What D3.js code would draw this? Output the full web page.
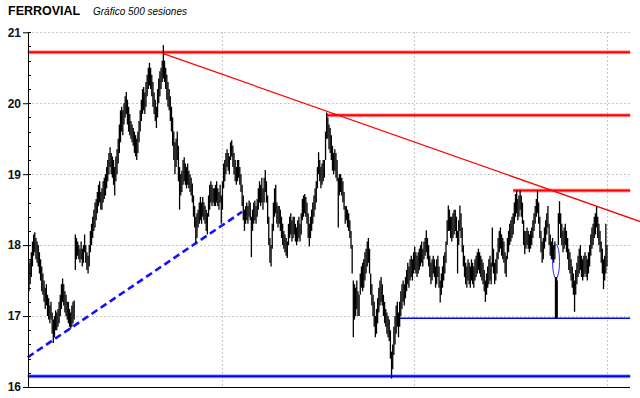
<!DOCTYPE html>
<html>
<head>
<meta charset="utf-8">
<script src="https://cdn.jsdelivr.net/npm/d3@7"></script>
<style>
body { margin: 0; background: #fff; }
#chart { width: 640px; height: 398px; }
</style>
</head>
<body>
<div id="chart"></div>
<script>
// daily ranges of the last 500 sessions (low / high)
var lows = [
  17.35,17.45,17.55,17.7,17.85,17.9,17.8,17.75,17.7,17.6,
  17.5,17.35,17.3,17.2,17.1,17.15,17.0,16.95,16.9,16.95,
  16.75,16.62,16.7,16.8,16.8,16.85,16.9,17.0,17.1,17.2,
  17.15,17.05,17.0,16.95,16.9,16.85,16.82,16.85,16.9,16.95,
  17.65,17.8,17.85,17.8,17.75,17.8,17.7,17.75,17.9,17.75,
  17.65,17.6,17.7,17.9,18.0,18.1,18.2,18.25,18.35,18.45,
  18.55,18.6,18.5,18.5,18.6,18.65,18.7,18.8,18.9,19.0,
  19.1,19.0,18.95,18.85,18.7,18.9,19.0,19.15,19.3,19.45,
  19.6,19.55,19.7,19.8,19.85,19.7,19.6,19.55,19.5,19.45,
  19.4,19.3,19.25,19.2,19.3,19.45,19.6,19.75,19.85,19.9,
  19.85,19.95,20.1,20.2,20.25,20.2,20.1,19.95,19.85,19.75,
  19.65,19.8,20.0,20.1,20.2,20.3,20.35,20.3,20.2,20.05,
  19.95,19.9,19.75,19.6,19.4,19.2,19.0,19.1,19.2,18.9,
  18.5,18.7,18.75,18.85,18.9,18.85,18.8,18.85,18.8,18.75,
  18.7,18.6,18.4,18.25,18.03,18.1,18.25,18.3,18.35,18.3,
  18.4,18.35,18.3,18.2,18.15,18.4,18.5,18.6,18.55,18.6,
  18.55,18.55,18.6,18.55,18.5,18.6,18.3,18.5,18.8,18.9,
  19.0,19.1,19.05,19.0,19.2,19.25,19.1,19.0,18.9,18.85,
  18.9,18.95,18.85,18.75,18.55,18.35,18.2,18.3,18.35,18.3,
  18.4,18.35,17.83,18.2,18.3,18.35,18.3,18.4,18.5,18.6,
  18.55,18.6,18.5,18.6,18.75,18.6,18.3,18.0,17.75,17.7,
  17.95,18.2,18.4,18.45,18.3,18.25,18.3,18.2,18.1,18.0,
  17.95,17.9,17.85,17.82,18.0,18.1,18.15,18.05,18.1,18.15,
  18.05,18.0,18.05,18.1,18.05,18.15,18.35,18.4,18.45,18.4,
  18.3,18.1,17.98,18.1,18.2,18.3,18.4,18.5,18.6,18.8,
  19.0,18.9,18.8,18.85,18.9,18.95,19.2,19.5,19.5,19.35,
  19.3,19.2,19.05,19.0,19.05,18.95,18.9,18.25,18.7,18.75,
  18.7,18.6,18.5,18.3,18.35,18.25,18.2,18.1,17.95,17.6,
  16.7,16.95,17.0,17.1,17.0,17.0,17.3,17.4,17.35,17.4,
  17.5,17.6,17.7,17.75,17.6,17.3,17.15,17.0,16.85,16.7,
  16.75,16.9,17.05,17.15,17.2,17.15,17.0,16.9,16.85,16.75,
  16.7,16.65,16.4,16.12,16.25,16.45,16.6,16.75,16.85,16.7,
  16.85,17.0,17.1,17.2,17.15,17.25,17.35,17.45,17.4,17.5,
  17.55,17.5,17.6,17.65,17.6,17.55,17.6,17.65,17.7,17.75,
  17.7,17.8,17.85,17.9,17.8,17.7,17.55,17.45,17.5,17.6,
  17.55,17.4,17.45,17.55,17.4,17.19,17.3,17.4,17.5,17.6,
  17.75,18.0,18.2,18.2,18.1,18.05,18.1,18.15,18.2,18.1,
  17.6,18.0,18.2,18.1,17.9,17.7,17.55,17.45,17.4,17.5,
  17.45,17.4,17.5,17.45,17.4,17.5,17.55,17.6,17.65,17.6,
  17.55,17.5,17.45,17.35,17.2,17.3,17.4,17.45,17.5,17.45,
  17.7,17.6,17.45,17.5,17.6,17.8,17.9,17.95,17.85,17.8,
  17.75,17.6,17.55,17.8,17.9,18.0,18.05,18.1,18.15,18.3,
  18.4,18.45,18.35,18.4,18.5,18.4,18.3,18.0,17.87,17.95,
  18.0,17.95,17.9,17.95,18.0,18.1,18.2,18.3,18.4,18.45,
  18.3,18.1,17.9,17.75,17.8,17.95,18.05,18.15,18.25,18.0,
  17.85,17.8,17.8,17.75,17.8,16.97,16.98,18.0,18.3,18.1,
  18.0,17.9,17.95,18.0,17.9,17.8,17.65,17.6,17.5,17.4,
  17.3,17.06,17.3,17.45,17.55,17.6,17.65,17.55,17.5,17.55,
  17.6,17.55,17.5,17.6,17.7,17.85,17.95,18.0,18.1,18.15,
  18.25,18.1,18.0,17.9,17.75,17.6,17.38,17.5,17.6,17.7
];
var highs = [
  17.75,17.8,17.9,18.05,18.15,18.18,18.1,18.05,18.0,17.9,
  17.8,17.7,17.6,17.5,17.4,17.45,17.3,17.25,17.15,17.2,
  17.05,16.95,17.0,17.08,17.05,17.1,17.2,17.3,17.45,17.53,
  17.45,17.35,17.3,17.2,17.2,17.1,17.05,17.15,17.2,17.22,
  18.15,18.1,18.05,18.0,17.95,18.05,17.95,18.0,18.15,18.0,
  17.9,17.85,18.0,18.2,18.3,18.4,18.5,18.6,18.65,18.75,
  18.85,18.9,18.75,18.8,18.9,18.95,19.0,19.1,19.2,19.3,
  19.38,19.3,19.25,19.2,19.1,19.25,19.35,19.5,19.7,19.9,
  19.95,19.9,20.0,20.1,20.16,20.05,19.95,19.85,19.75,19.7,
  19.65,19.6,19.55,19.5,19.6,19.75,19.9,20.05,20.2,20.23,
  20.15,20.3,20.4,20.5,20.57,20.5,20.4,20.3,20.15,20.05,
  19.95,20.2,20.35,20.45,20.5,20.6,20.82,20.6,20.5,20.4,
  20.3,20.2,20.1,19.95,19.8,19.6,19.45,19.5,19.6,19.4,
  19.1,19.0,19.05,19.2,19.24,19.15,19.1,19.15,19.05,19.0,
  18.95,18.87,18.7,18.55,18.4,18.45,18.5,18.6,18.68,18.6,
  18.68,18.6,18.55,18.5,18.45,18.7,18.85,18.9,18.85,18.8,
  18.8,18.85,18.9,18.8,18.75,18.85,18.7,18.9,19.15,19.2,
  19.3,19.35,19.3,19.25,19.45,19.48,19.4,19.3,19.2,19.1,
  19.2,19.2,19.1,19.0,18.85,18.7,18.5,18.55,18.6,18.55,
  18.63,18.6,18.4,18.5,18.6,18.63,18.55,18.65,18.8,18.9,
  18.85,18.95,18.8,18.95,19.06,18.9,18.7,18.4,18.1,18.0,
  18.3,18.6,18.8,18.85,18.6,18.55,18.55,18.5,18.4,18.3,
  18.2,18.15,18.1,18.05,18.3,18.4,18.45,18.35,18.4,18.4,
  18.3,18.25,18.35,18.4,18.3,18.45,18.65,18.7,18.72,18.68,
  18.6,18.45,18.3,18.4,18.5,18.6,18.7,18.8,18.9,19.1,
  19.31,19.2,19.1,19.15,19.2,19.2,19.6,19.87,19.8,19.7,
  19.65,19.55,19.4,19.3,19.35,19.3,19.2,18.95,19.0,19.0,
  18.95,18.9,18.75,18.55,18.55,18.5,18.45,18.35,18.2,18.0,
  17.5,17.45,17.4,17.5,17.35,17.3,17.6,17.7,17.75,17.8,
  17.9,17.95,18.05,18.1,17.95,17.6,17.45,17.3,17.2,17.0,
  17.1,17.25,17.4,17.5,17.55,17.45,17.3,17.2,17.1,17.05,
  17.0,16.95,16.8,16.5,16.6,16.85,17.0,17.15,17.2,17.05,
  17.2,17.35,17.45,17.5,17.45,17.55,17.65,17.75,17.7,17.8,
  17.85,17.8,17.9,17.98,17.9,17.85,17.9,17.95,18.0,18.05,
  17.95,18.05,18.1,18.21,18.1,18.0,17.85,17.75,17.8,17.85,
  17.8,17.7,17.8,17.85,17.7,17.5,17.6,17.7,17.85,17.9,
  18.05,18.35,18.56,18.5,18.4,18.4,18.45,18.5,18.5,18.4,
  18.2,18.35,18.56,18.45,18.25,18.0,17.85,17.75,17.7,17.8,
  17.75,17.7,17.8,17.75,17.7,17.8,17.85,17.9,17.95,17.9,
  17.85,17.8,17.75,17.65,17.5,17.6,17.7,17.8,17.85,17.75,
  18.25,17.95,17.75,17.8,17.9,18.1,18.2,18.25,18.15,18.1,
  18.05,17.9,17.85,18.1,18.2,18.3,18.35,18.4,18.45,18.6,
  18.72,18.77,18.65,18.7,18.77,18.7,18.6,18.35,18.2,18.2,
  18.25,18.2,18.15,18.2,18.25,18.35,18.45,18.55,18.65,18.77,
  18.6,18.4,18.2,18.05,18.1,18.25,18.35,18.45,18.55,18.3,
  18.15,18.05,18.1,18.0,18.05,17.55,17.5,18.45,18.62,18.45,
  18.3,18.2,18.25,18.3,18.2,18.1,17.95,17.9,17.8,17.7,
  17.6,17.5,17.65,17.75,17.85,17.95,18.0,17.85,17.8,17.85,
  17.9,17.85,17.8,17.9,18.0,18.15,18.25,18.3,18.4,18.45,
  18.54,18.4,18.3,18.2,18.05,17.95,17.8,17.85,18.3,18.0
];

var yTicks = [16, 17, 18, 19, 20, 21];
var gridSessions = [167, 332, 499];

// horizontal levels: price and first session, all run to levelEnd
var redLevels = [20.72, 19.83, 18.77];
var redStarts = [-1, 257, 418];
var blueLevels = [16.15, 16.97];
var blueStarts = [-1, 320];
var levelEnd = 519;

// trend lines [session, price]
var resistance = [[116, 20.70], [528, 18.33]];
var support = [[-1, 16.42], [184, 18.47]];

// marked gap: session, low, high
var gapMark = [455, 17.53, 18.01];

var Chart = {
  margin: { top: 32, left: 28 },
  width: 640,
  height: 398,

  drawPlot: function() {
    document.querySelector("#chart").innerHTML = '';
    this.svg = d3.select("#chart")
      .append("svg")
      .attr("width", this.width)
      .attr("height", this.height)
      .style("font-family", "'Liberation Sans', Arial, sans-serif");
  },

  createScales: function() {
    this.xScale = d3.scaleLinear()
      .domain([0, lows.length - 1])
      .range([29, 607]);

    this.yScale = d3.scaleLinear()
      .domain([16, 21])
      .range([387, 32.3]);
  },

  addGrid: function() {
    var that = this;
    var grid = this.svg.append("g").attr("class", "grid");

    grid.selectAll("line.h")
      .data(yTicks.slice(1))
      .enter().append("line")
      .attr("class", "h")
      .attr("x1", 28).attr("x2", 630)
      .attr("y1", function(d) { return Math.round(that.yScale(d)) + 0.5; })
      .attr("y2", function(d) { return Math.round(that.yScale(d)) + 0.5; })
      .attr("stroke", "#c3c9c3")
      .attr("stroke-dasharray", "2,2");

    grid.selectAll("line.v")
      .data(gridSessions)
      .enter().append("line")
      .attr("class", "v")
      .attr("x1", function(d) { return Math.round(that.xScale(d)) + 0.5; })
      .attr("x2", function(d) { return Math.round(that.xScale(d)) + 0.5; })
      .attr("y1", 32).attr("y2", 387)
      .attr("stroke", "#cdc3cd")
      .attr("stroke-dasharray", "2,2");
  },

  addAxes: function() {
    var that = this;

    var yAxis = d3.axisLeft(this.yScale)
      .tickValues(yTicks)
      .tickSize(5)
      .tickSizeOuter(0)
      .tickPadding(2)
      .tickFormat(d3.format("d"));

    var g = this.svg.append("g")
      .attr("transform", "translate(" + this.margin.left + ",0)")
      .call(yAxis);

    g.select(".domain").attr("stroke", "#000");
    g.selectAll(".tick line").attr("stroke", "#000");
    g.selectAll(".tick text")
      .attr("fill", "#111")
      .style("font-size", "12px")
      .style("font-weight", "bold")
      .style("font-family", "'Liberation Sans', Arial, sans-serif");

    // small inner ticks every 0.2
    var minor = d3.range(160, 211, 2).map(function(d) { return d / 10; });
    this.svg.append("g").selectAll("line")
      .data(minor)
      .enter().append("line")
      .attr("x1", 28).attr("x2", 31)
      .attr("y1", function(d) { return Math.round(that.yScale(d)) + 0.5; })
      .attr("y2", function(d) { return Math.round(that.yScale(d)) + 0.5; })
      .attr("stroke", "#000");

    // bottom line
    this.svg.append("line")
      .attr("x1", 28).attr("x2", 630)
      .attr("y1", Math.round(this.yScale(16)) + 0.5)
      .attr("y2", Math.round(this.yScale(16)) + 0.5)
      .attr("stroke", "#000");
  },

  drawData: function() {
    var that = this;
    this.svg.append("g").selectAll("line")
      .data(lows)
      .enter().append("line")
      .attr("x1", function(d, i) { return that.xScale(i); })
      .attr("x2", function(d, i) { return that.xScale(i); })
      .attr("y1", function(d) { return that.yScale(d); })
      .attr("y2", function(d, i) { return that.yScale(highs[i]); })
      .attr("stroke", "#000")
      .attr("stroke-width", function(d, i) { return i === gapMark[0] ? 2.4 : 1.3; });
  },

  addLines: function() {
    var that = this;
    var x = this.xScale, y = this.yScale;

    function level(val, start, color, w, halo) {
      var yy = y(val);
      if (halo) {
        that.svg.append("line")
          .attr("x1", x(start)).attr("x2", x(levelEnd))
          .attr("y1", yy).attr("y2", yy)
          .attr("stroke", color).attr("stroke-opacity", 0.35)
          .attr("stroke-width", w + 2);
      }
      that.svg.append("line")
        .attr("x1", x(start)).attr("x2", x(levelEnd))
        .attr("y1", yy).attr("y2", yy)
        .attr("stroke", color)
        .attr("stroke-width", w);
    }

    redLevels.forEach(function(v, i) { level(v, redStarts[i], "#ff0000", 2, true); });
    level(blueLevels[0], blueStarts[0], "#0000ff", 2, true);
    level(blueLevels[1], blueStarts[1], "#0000ee", 1.5, false);

    // resistance
    this.svg.append("line")
      .attr("x1", x(resistance[0][0])).attr("y1", y(resistance[0][1]))
      .attr("x2", x(resistance[1][0])).attr("y2", y(resistance[1][1]))
      .attr("stroke", "#ff0000")
      .attr("stroke-width", 1.2);

    // support
    this.svg.append("line")
      .attr("x1", x(support[0][0])).attr("y1", y(support[0][1]))
      .attr("x2", x(support[1][0])).attr("y2", y(support[1][1]))
      .attr("stroke", "#1010ff")
      .attr("stroke-width", 2.6)
      .attr("stroke-dasharray", "7,4");

    // gap ellipse
    this.svg.append("ellipse")
      .attr("cx", x(gapMark[0]))
      .attr("cy", (y(gapMark[1]) + y(gapMark[2])) / 2)
      .attr("rx", 3.5)
      .attr("ry", (y(gapMark[1]) - y(gapMark[2])) / 2)
      .attr("fill", "#fff")
      .attr("stroke", "#2a2aff")
      .attr("stroke-width", 1);
  },

  addLabels: function() {
    this.svg.append("text")
      .attr("x", 8).attr("y", 15)
      .style("font-size", "12.5px")
      .style("font-weight", "bold")
      .text("FERROVIAL");

    this.svg.append("text")
      .attr("x", 93).attr("y", 15)
      .style("font-size", "10px")
      .style("font-style", "italic")
      .text("Gráfico 500 sesiones");
  },

  draw: function() {
    this.drawPlot();
    this.createScales();
    this.addGrid();
    this.addLines();
    this.drawData();
    this.addAxes();
    this.addLabels();
  }
};

Chart.draw();
</script>
</body>
</html>
